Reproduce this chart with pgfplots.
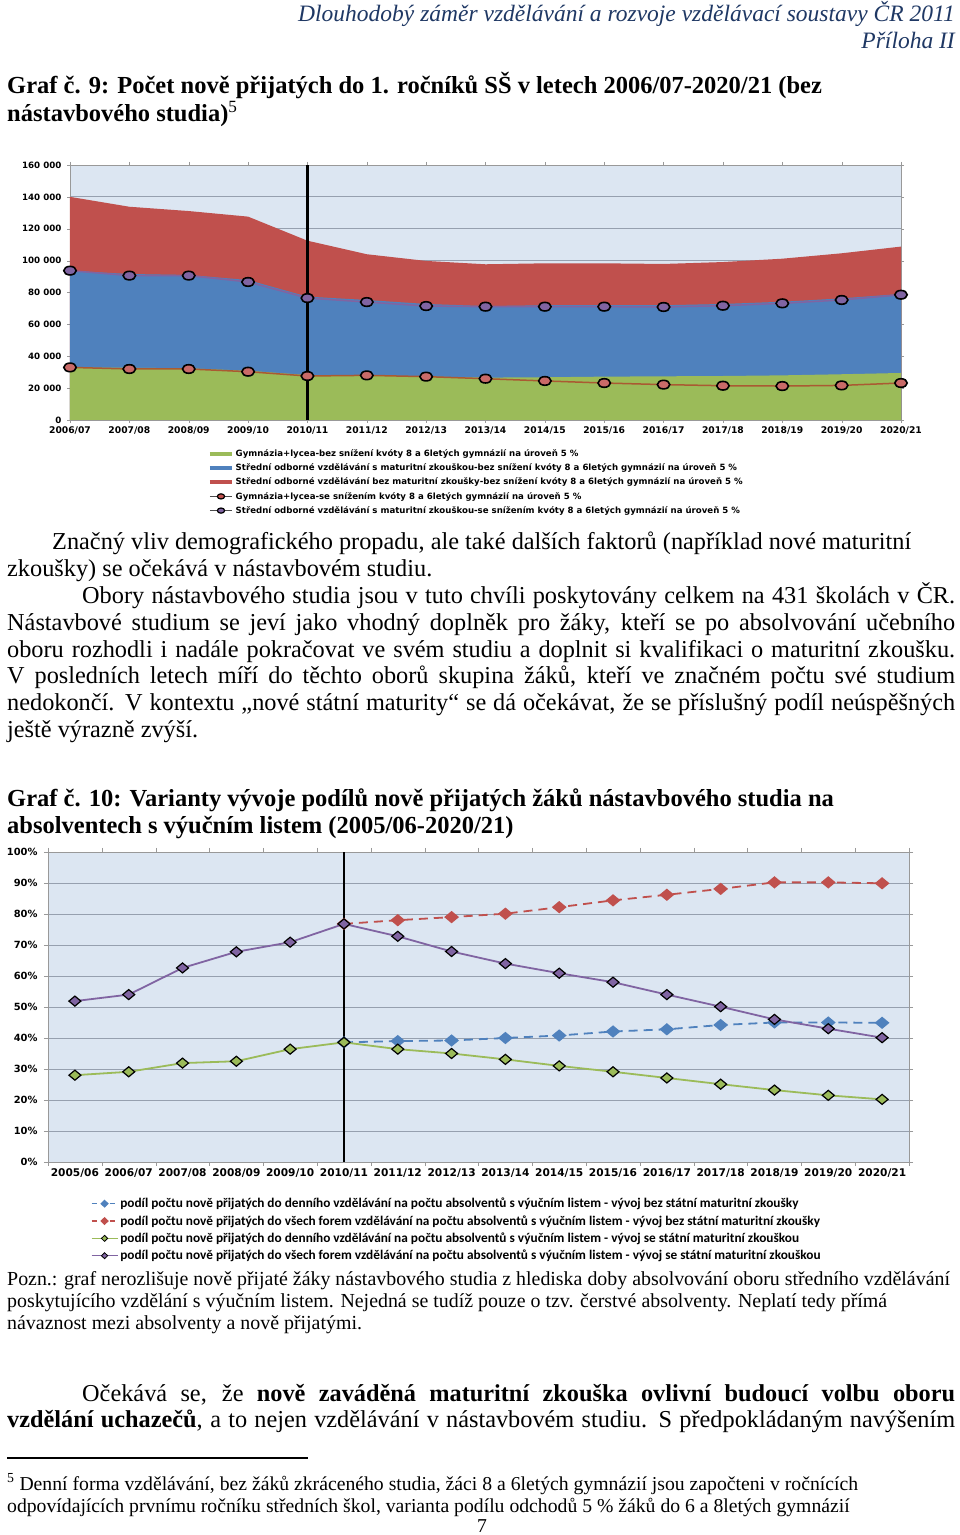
\documentclass[border=0pt]{standalone}
\usepackage{fontspec}
\setmainfont{Liberation Serif}
\newfontfamily\chartfont{DejaVu Sans}
\newfontfamily\legfont{Carlito}
\usepackage{pgfplots}
\pgfplotsset{compat=1.18}
\definecolor{bgblue}{RGB}{220,230,242}
\definecolor{xgreen}{RGB}{155,187,89}
\definecolor{xblue}{RGB}{79,129,189}
\definecolor{xred}{RGB}{192,80,77}
\definecolor{xpurple}{RGB}{128,100,162}
\definecolor{xbrown}{RGB}{170,90,50}
\definecolor{hdrblue}{RGB}{31,56,100}
\definecolor{gridgray}{RGB}{150,160,175}
\newcommand{\bodysize}{\fontsize{24.3}{27}\selectfont}
\newcommand{\titlesize}{\fontsize{24.5}{27}\selectfont}
\newcommand{\notesize}{\fontsize{19.9}{22}\selectfont}
\newcommand{\footsize}{\fontsize{19.7}{22}\selectfont}
\begin{document}
\begin{tikzpicture}
\path[fill=white] (0pt,0pt) rectangle (960pt,1535pt);

% ---- page text ----
\node[anchor=base east, inner sep=0pt, text=hdrblue, font=\itshape\fontsize{23.5}{26}\selectfont] at (955pt,1513pt) {Dlouhodobý záměr vzdělávání a rozvoje vzdělávací soustavy ČR 2011};
\node[anchor=base east, inner sep=0pt, text=hdrblue, font=\itshape\fontsize{23.5}{26}\selectfont] at (955pt,1486pt) {Příloha II};

\node[anchor=base west, inner sep=0pt, font=\bfseries\titlesize] at (7pt,1441pt) {Graf č. 9: Počet nově přijatých do 1. ročníků SŠ v letech 2006/07-2020/21 (bez};
\node[anchor=base west, inner sep=0pt, font=\bfseries\titlesize] at (7pt,1413pt) {nástavbového studia)\textsuperscript{\mdseries 5}};

\node[anchor=base west, inner sep=0pt, font=\bodysize] at (52pt,985pt) {Značný vliv demografického propadu, ale také dalších faktorů (například nové maturitní};
\node[anchor=base west, inner sep=0pt, font=\bodysize] at (7pt,958pt) {zkoušky) se očekává v nástavbovém studiu.};

\node[anchor=base west, inner sep=0pt, font=\bodysize] at (82pt,931pt) {\makebox[873pt][s]{Obory nástavbového studia jsou v tuto chvíli poskytovány celkem na 431 školách v ČR.}};
\node[anchor=base west, inner sep=0pt, font=\bodysize] at (7pt,904pt) {\makebox[948pt][s]{Nástavbové studium se jeví jako vhodný doplněk pro žáky, kteří se po absolvování učebního}};
\node[anchor=base west, inner sep=0pt, font=\bodysize] at (7pt,877pt) {\makebox[948pt][s]{oboru rozhodli i nadále pokračovat ve svém studiu a doplnit si kvalifikaci o maturitní zkoušku.}};
\node[anchor=base west, inner sep=0pt, font=\bodysize] at (7pt,851pt) {\makebox[948pt][s]{V posledních letech míří do těchto oborů skupina žáků, kteří ve značném počtu své studium}};
\node[anchor=base west, inner sep=0pt, font=\bodysize] at (7pt,824pt) {\makebox[948pt][s]{nedokončí. V kontextu „nové státní maturity“ se dá očekávat, že se příslušný podíl neúspěšných}};
\node[anchor=base west, inner sep=0pt, font=\bodysize] at (7pt,797pt) {ještě výrazně zvýší.};

\node[anchor=base west, inner sep=0pt, font=\bfseries\titlesize] at (7pt,728pt) {Graf č. 10: Varianty vývoje podílů nově přijatých žáků nástavbového studia na};
\node[anchor=base west, inner sep=0pt, font=\bfseries\titlesize] at (7pt,701pt) {absolventech s výučním listem (2005/06-2020/21)};

\node[anchor=base west, inner sep=0pt, font=\notesize] at (7pt,249pt) {Pozn.: graf nerozlišuje nově přijaté žáky nástavbového studia z hlediska doby absolvování oboru středního vzdělávání};
\node[anchor=base west, inner sep=0pt, font=\notesize] at (7pt,227pt) {poskytujícího vzdělání s výučním listem. Nejedná se tudíž pouze o tzv. čerstvé absolventy. Neplatí tedy přímá};
\node[anchor=base west, inner sep=0pt, font=\notesize] at (7pt,205pt) {návaznost mezi absolventy a nově přijatými.};

\node[anchor=base west, inner sep=0pt, font=\bodysize] at (82pt,133pt) {\makebox[873pt][s]{Očekává se, že \textbf{nově zaváděná maturitní zkouška ovlivní budoucí volbu oboru}}};
\node[anchor=base west, inner sep=0pt, font=\bodysize] at (7pt,107pt) {\makebox[948pt][s]{\textbf{vzdělání uchazečů}, a to nejen vzdělávání v nástavbovém studiu. S předpokládaným navýšením}};

\draw[line width=1.2pt] (7pt,77pt) -- (308pt,77pt);
\node[anchor=base west, inner sep=0pt, font=\footsize] at (7pt,45pt) {\textsuperscript{5} Denní forma vzdělávání, bez žáků zkráceného studia, žáci 8 a 6letých gymnázií jsou započteni v ročnících};
\node[anchor=base west, inner sep=0pt, font=\footsize] at (7pt,23pt) {odpovídajících prvnímu ročníku středních škol, varianta podílu odchodů 5 \% žáků do 6 a 8letých gymnázií};
\node[anchor=base, inner sep=0pt, font=\footsize] at (482pt,2pt) {7};

% ---- chart 9 ----
\begin{axis}[
  at={(70pt,1115pt)}, anchor=south west,
  scale only axis, width=831pt, height=255pt,
  xmin=0, xmax=14, ymin=0, ymax=160000,
  clip mode=individual,
  scaled y ticks=false,
  xtick={0,...,14},
  xticklabels={2006/07,2007/08,2008/09,2009/10,2010/11,2011/12,2012/13,2013/14,2014/15,2015/16,2016/17,2017/18,2018/19,2019/20,2020/21},
  ytick={0,20000,...,160000},
  yticklabels={0,20 000,40 000,60 000,80 000,100 000,120 000,140 000,160 000},
  axis background/.style={fill=bgblue},
  ymajorgrids, grid style={gridgray, line width=0.8pt},
  axis line style={gray!80},
  tick style={gray!80},
  tick align=outside, major tick length=3pt,
  xticklabel style={font=\chartfont\bfseries\fontsize{9.2}{10}\selectfont},
  yticklabel style={font=\chartfont\bfseries\fontsize{8.7}{10}\selectfont, xshift=-2pt},
  legend image code/.code={\draw[mark repeat=2,mark phase=2,#1] plot coordinates {(0pt,0pt) (11pt,0pt) (22pt,0pt)};},
  legend style={at={(0.1625,-0.1)}, anchor=north west, draw=none, fill=none,
    font=\chartfont\bfseries\fontsize{8.6}{9}\selectfont, row sep=1.8pt},
  legend cell align=left,
]
\addplot[fill=xred, draw=none, forget plot] coordinates {
 (0,140000) (1,133800) (2,131100) (3,127600) (4,112500) (5,104000) (6,99800) (7,97700)
 (8,98300) (9,98300) (10,97900) (11,99100) (12,101200) (13,104600) (14,108800)} \closedcycle;
\addplot[fill=xblue, draw=none, forget plot] coordinates {
 (0,93700) (1,91600) (2,91000) (3,87800) (4,77400) (5,75300) (6,72800) (7,71500)
 (8,72000) (9,72000) (10,72000) (11,72800) (12,74200) (13,76300) (14,79100)} \closedcycle;
\addplot[fill=xgreen, draw=none, forget plot] coordinates {
 (0,33000) (1,32800) (2,32400) (3,30900) (4,28200) (5,28000) (6,27200) (7,26600)
 (8,26800) (9,27200) (10,27400) (11,27600) (12,28000) (13,28700) (14,29500)} \closedcycle;
\addplot[black, line width=2.5pt, forget plot] coordinates {(4,0) (4,160000)};
\addplot[xbrown, line width=1.5pt, mark=*, mark size=4.3pt,
  mark options={xscale=1.45, draw=black, fill=xred!85!white, line width=1.6pt}, forget plot] coordinates {
 (0,33000) (1,32000) (2,32000) (3,30300) (4,27600) (5,28000) (6,27200) (7,25900)
 (8,24500) (9,23200) (10,22200) (11,21500) (12,21300) (13,21700) (14,23200)};
\addplot[xpurple, line width=1.5pt, mark=*, mark size=4.3pt,
  mark options={xscale=1.45, draw=black, fill=xpurple, line width=1.6pt}, forget plot] coordinates {
 (0,93700) (1,90600) (2,90600) (3,86600) (4,76500) (5,74000) (6,71500) (7,71100)
 (8,71100) (9,71100) (10,70900) (11,71700) (12,73200) (13,75300) (14,78600)};
\addlegendimage{xgreen, line width=3.5pt}
\addlegendentry{Gymnázia+lycea-bez snížení kvóty 8 a 6letých gymnázií na úroveň 5 \%}
\addlegendimage{xblue, line width=3.5pt}
\addlegendentry{Střední odborné vzdělávání s maturitní zkouškou-bez snížení kvóty 8 a 6letých gymnázií na úroveň 5 \%}
\addlegendimage{xred, line width=3.5pt}
\addlegendentry{Střední odborné vzdělávání bez maturitní zkoušky-bez snížení kvóty 8 a 6letých gymnázií na úroveň 5 \%}
\addlegendimage{gray!60!black, line width=1.2pt, mark=*, mark size=2.6pt, mark options={xscale=1.4, draw=black, fill=xred, line width=1.2pt}}
\addlegendentry{Gymnázia+lycea-se snížením kvóty 8 a 6letých gymnázií na úroveň 5 \%}
\addlegendimage{gray!60!black, line width=1.2pt, mark=*, mark size=2.6pt, mark options={xscale=1.4, draw=black, fill=xpurple, line width=1.2pt}}
\addlegendentry{Střední odborné vzdělávání s maturitní zkouškou-se snížením kvóty 8 a 6letých gymnázií na úroveň 5 \%}
\end{axis}

% ---- chart 10 ----
\begin{axis}[
  at={(48pt,373pt)}, anchor=south west,
  scale only axis, width=861pt, height=310pt,
  xmin=-0.5, xmax=15.5, ymin=0, ymax=100,
  clip mode=individual,
  xtick={0,...,15},
  xticklabels={2005/06,2006/07,2007/08,2008/09,2009/10,2010/11,2011/12,2012/13,2013/14,2014/15,2015/16,2016/17,2017/18,2018/19,2019/20,2020/21},
  minor xtick={-0.5,0.5,...,15.5},
  ytick={0,10,...,100},
  minor ytick={0,10,...,100},
  yticklabels={0\%,10\%,20\%,30\%,40\%,50\%,60\%,70\%,80\%,90\%,100\%},
  axis background/.style={fill=bgblue},
  ymajorgrids, grid style={gridgray, line width=0.8pt},
  axis line style={gray!80},
  tick style={gray!80},
  tick align=outside, major tick length=0pt, minor tick length=4pt,
  xticklabel style={font=\chartfont\bfseries\fontsize{10.6}{12}\selectfont, yshift=-3pt},
  yticklabel style={font=\chartfont\bfseries\fontsize{9.9}{12}\selectfont, xshift=-7pt},
  legend image code/.code={\draw[mark repeat=2,mark phase=2,#1] plot coordinates {(0pt,0pt) (13pt,0pt) (26pt,0pt)};},
  legend style={at={(0.046,-0.103)}, anchor=north west, draw=none, fill=none,
    font=\legfont\bfseries\fontsize{13.3}{14}\selectfont, row sep=2.2pt},
  legend cell align=left,
]
\addplot[black, line width=2.5pt, forget plot] coordinates {(5,0) (5,100)};
\addplot[xred, line width=1.8pt, dash pattern=on 9pt off 6pt, mark=diamond*, mark size=5pt,
  mark options={solid, xscale=1.6, draw=xred, fill=xred}, forget plot] coordinates {
 (5,76.8) (6,78.0) (7,79.0) (8,80.1) (9,82.2) (10,84.4) (11,86.2) (12,88.1) (13,90.2) (14,90.2) (15,89.9)};
\addplot[xblue, line width=1.8pt, dash pattern=on 9pt off 6pt, mark=diamond*, mark size=5pt,
  mark options={solid, xscale=1.6, draw=xblue, fill=xblue}, forget plot] coordinates {
 (5,38.6) (6,39.0) (7,39.2) (8,40.0) (9,40.8) (10,42.1) (11,42.8) (12,44.2) (13,45.0) (14,45.0) (15,44.9)};
\addplot[xgreen, line width=1.8pt, mark=diamond*, mark size=5pt,
  mark options={xscale=1.6, draw=black, fill=xgreen, line width=1.2pt}, forget plot] coordinates {
 (0,28.0) (1,29.1) (2,31.9) (3,32.5) (4,36.4) (5,38.6) (6,36.4) (7,35.0)
 (8,33.1) (9,31.0) (10,29.1) (11,27.1) (12,25.1) (13,23.2) (14,21.5) (15,20.2)};
\addplot[xpurple, line width=1.8pt, mark=diamond*, mark size=5pt,
  mark options={xscale=1.6, draw=black, fill=xpurple, line width=1.2pt}, forget plot] coordinates {
 (0,51.9) (1,54.0) (2,62.6) (3,67.8) (4,70.9) (5,76.8) (6,72.8) (7,67.9)
 (8,64.0) (9,60.9) (10,58.0) (11,54.0) (12,50.1) (13,46.0) (14,43.0) (15,40.1)};
\addlegendimage{xblue, line width=1.5pt, dash pattern=on 5pt off 4pt, mark=diamond*, mark size=3pt, mark options={solid, xscale=1.4, draw=xblue, fill=xblue}}
\addlegendentry{podíl počtu nově přijatých do denního vzdělávání na počtu absolventů s výučním listem - vývoj bez státní maturitní zkoušky}
\addlegendimage{xred, line width=1.5pt, dash pattern=on 5pt off 4pt, mark=diamond*, mark size=3pt, mark options={solid, xscale=1.4, draw=xred, fill=xred}}
\addlegendentry{podíl počtu nově přijatých do všech forem vzdělávání na počtu absolventů s výučním listem - vývoj bez státní maturitní zkoušky}
\addlegendimage{xgreen, line width=1.5pt, mark=diamond*, mark size=3pt, mark options={xscale=1.4, draw=black, fill=xgreen, line width=0.8pt}}
\addlegendentry{podíl počtu nově přijatých do denního vzdělávání na počtu absolventů s výučním listem - vývoj se státní maturitní zkouškou}
\addlegendimage{xpurple, line width=1.5pt, mark=diamond*, mark size=3pt, mark options={xscale=1.4, draw=black, fill=xpurple, line width=0.8pt}}
\addlegendentry{podíl počtu nově přijatých do všech forem vzdělávání na počtu absolventů s výučním listem - vývoj se státní maturitní zkouškou}
\end{axis}
\end{tikzpicture}
\end{document}
